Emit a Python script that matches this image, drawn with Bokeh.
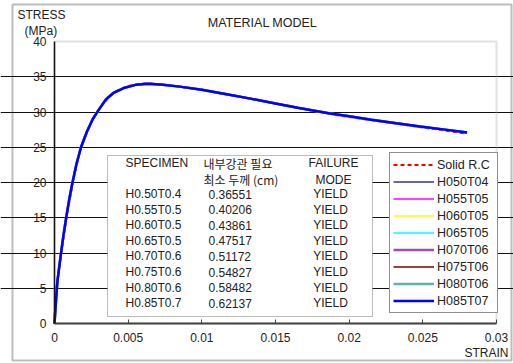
from bokeh.plotting import figure
from bokeh.models import (Range1d, FixedTicker, Legend, LegendItem, Label,
                          BoxAnnotation, LabelSet, ColumnDataSource)
from bokeh.embed import file_html
from bokeh.resources import INLINE
from bokeh.core.properties import value

# ---- data ----
strain = [0, 0.0001, 0.0002, 0.0004, 0.0006, 0.0008, 0.001, 0.0012, 0.0015,
          0.0018, 0.0022, 0.0026, 0.003, 0.0035, 0.004, 0.0047, 0.0055, 0.0063,
          0.0072, 0.0085, 0.01, 0.0115, 0.0133, 0.015, 0.0165, 0.0187, 0.02,
          0.0215, 0.0232, 0.0248, 0.0265, 0.028]
stress = [0, 3.2, 6.0, 9.3, 12.4, 15.1, 17.6, 19.8, 22.7,
          25.0, 27.2, 29.0, 30.3, 31.8, 32.7, 33.4, 33.85, 34.0,
          33.9, 33.6, 33.15, 32.6, 31.9, 31.2, 30.6, 29.8, 29.4,
          28.9, 28.4, 27.95, 27.5, 27.1]
rc_strain = [0, 0.00005, 0.0002, 0.0005, 0.0009, 0.0013, 0.0018, 0.0023,
             0.003, 0.004, 0.005, 0.0063, 0.008, 0.01, 0.013, 0.016, 0.019,
             0.022, 0.025, 0.0279]
rc_stress = [0, 3.5, 6.3, 10.6, 16.0, 20.6, 25.1, 27.8,
             30.4, 32.8, 33.7, 34.1, 33.7, 33.1, 32.0, 30.8, 29.6,
             28.7, 27.8, 26.95]

series_names = ["Solid R.C", "H050T04", "H055T05", "H060T05", "H065T05",
                "H070T06", "H075T06", "H080T06", "H085T07"]
series_colors = ["#FF0000", "#3333A0", "#FF00FF", "#FFFF00", "#00FFFF",
                 "#A050A0", "#800000", "#5FB0B0", "#0000FF"]
series_widths = [2, 1.5, 1.5, 1.5, 1.5, 2.5, 1.5, 2.5, 2.5]

x_ticks = [0, 0.005, 0.01, 0.015, 0.02, 0.025, 0.03]
x_tick_labels = ["0", "0.005", "0.01", "0.015", "0.02", "0.025", "0.03"]
y_ticks = [0, 5, 10, 15, 20, 25, 30, 35, 40]

specimens = ["H0.50T0.4", "H0.55T0.5", "H0.60T0.5", "H0.65T0.5",
             "H0.70T0.6", "H0.75T0.6", "H0.80T0.6", "H0.85T0.7"]
thickness = ["0.36551", "0.40206", "0.43861", "0.47517",
             "0.51172", "0.54827", "0.58482", "0.62137"]
failure_modes = ["YIELD", "YIELD", "YIELD", "YIELD",
                 "YIELD", "YIELD", "YIELD", "YIELD"]

# ---- layout (page pixels) ----
W, H = 513, 363
PL, PR, PT, PB = 54, 496, 41, 323      # plot area edges on the page
XMIN, XMAX = x_ticks[0], x_ticks[-1]
YMIN, YMAX = y_ticks[0], y_ticks[-1]
xs_per_px = (XMAX - XMIN) / (PR - PL)
ys_per_px = (YMAX - YMIN) / (PB - PT)

def sx(px):            # page x -> screen units
    return px
def sy(py):            # page y -> screen units (from bottom)
    return H - py

LAT = "Liberation Sans"
KOR = "Noto Sans CJK KR"

p = figure(width=W, height=H, output_backend="svg", toolbar_location=None,
           x_range=Range1d(XMIN - PL * xs_per_px, XMAX + (W - PR) * xs_per_px),
           y_range=Range1d(YMIN - (H - PB) * ys_per_px, YMAX + PT * ys_per_px),
           min_border=0, min_border_left=0, min_border_right=0,
           min_border_top=0, min_border_bottom=0)
p.outline_line_color = None
p.background_fill_color = "white"
p.border_fill_color = "white"

# plot-area border (grey top/right)
p.add_layout(BoxAnnotation(left=XMIN, right=XMAX, bottom=YMIN, top=YMAX,
                           fill_alpha=0, line_color="#9a9a9a", line_width=2,
                           level="underlay"))

p.xaxis.ticker = FixedTicker(ticks=x_ticks)
p.xaxis.major_label_overrides = dict(zip(x_ticks, x_tick_labels))
p.yaxis.ticker = FixedTicker(ticks=y_ticks)
p.xaxis.fixed_location = YMIN
p.yaxis.fixed_location = XMIN
p.xaxis.bounds = (XMIN, XMAX)
p.yaxis.bounds = (YMIN, YMAX)
for ax in (p.xaxis, p.yaxis):
    ax.major_tick_out = 0
    ax.minor_tick_line_color = None
    ax.major_label_text_font = LAT
    ax.major_label_text_font_size = "12px"
    ax.major_label_text_color = "#222222"
p.xaxis.major_tick_in = 4
p.xaxis.axis_line_color = "#444444"
p.xaxis.major_tick_line_color = "#444444"
p.xaxis.axis_line_width = 2
p.yaxis.major_tick_in = 0
p.yaxis.major_tick_line_color = None
p.yaxis.axis_line_color = "#111111"
p.yaxis.axis_line_width = 1.5
p.xaxis.major_label_standoff = 9
p.yaxis.major_label_standoff = 8
p.xgrid.visible = False
p.ygrid.ticker = FixedTicker(ticks=y_ticks[1:-1])
p.ygrid.bounds = (XMIN, XMAX)
p.ygrid.grid_line_color = "#111111"
p.ygrid.grid_line_width = 1

renderers = []
r = p.line(rc_strain, rc_stress, line_color=series_colors[0],
           line_width=series_widths[0], line_dash="4 3")
renderers.append(r)
for c, w in zip(series_colors[1:], series_widths[1:]):
    r = p.line(strain, stress, line_color=c, line_width=w)
    renderers.append(r)

# outer chart border
p.add_layout(BoxAnnotation(left=sx(12), right=sx(511), top=sy(4), bottom=sy(360),
                           left_units="screen", right_units="screen",
                           top_units="screen", bottom_units="screen",
                           fill_alpha=0, line_color="#222222", line_width=2,
                           level="overlay"))

def label(t, x, y, al="left", f=LAT, size="12px"):
    p.add_layout(Label(x=sx(x), y=sy(y), x_units="screen", y_units="screen",
                       text=t, text_align=al, text_baseline="middle",
                       text_font=f, text_font_size=size, text_color="#222222"))

# title and axis captions
label("MATERIAL MODEL", 262, 22, "center", LAT, "12.5px")
label("STRESS", 17, 14)
label("(MPa)", 24, 30)
label("STRAIN", 508, 352, "right")

# table box
p.add_layout(BoxAnnotation(left=sx(107), right=sx(372), top=sy(155), bottom=sy(316),
                           left_units="screen", right_units="screen",
                           top_units="screen", bottom_units="screen",
                           fill_color="white", fill_alpha=1, line_color="#222222",
                           line_width=1))

label("SPECIMEN", 125, 162.7)
label("FAILURE", 333, 162.7, "center")
label("MODE", 333, 179.3, "center")
label("내부강관 필요", 203, 162.7, "left", KOR)
label("최소 두께 (cm)", 203, 179.3, "left", KOR)

row_y = [sy(193.5 + 15.6 * i) for i in range(len(specimens))]
tab_src = ColumnDataSource(dict(
    y=row_y, spec=specimens, thick=thickness, mode=failure_modes,
    xs=[sx(125)] * len(specimens), xt=[sx(208)] * len(specimens),
    xm=[sx(330)] * len(specimens)))
for col, xcol, al in (("spec", "xs", "left"), ("thick", "xt", "left"),
                      ("mode", "xm", "center")):
    p.add_layout(LabelSet(x=xcol, y="y", text=col, source=tab_src,
                          x_units="screen", y_units="screen",
                          text_align=al, text_baseline="middle",
                          text_font=value(LAT), text_font_size="12px",
                          text_color="#222222"))

legend = Legend(items=[LegendItem(label=n, renderers=[rr])
                       for n, rr in zip(series_names, renderers)],
                location=(sx(389), sy(313)),
                label_text_font=LAT, label_text_font_size="12.5px",
                label_text_color="#222222",
                glyph_width=41, glyph_height=17, label_height=17,
                label_width=57, label_standoff=3, spacing=0, padding=3,
                margin=0, border_line_color="#222222", border_line_width=1,
                background_fill_color="white", background_fill_alpha=1)
p.add_layout(legend)

open("out.html", "w").write(file_html(p, INLINE))
